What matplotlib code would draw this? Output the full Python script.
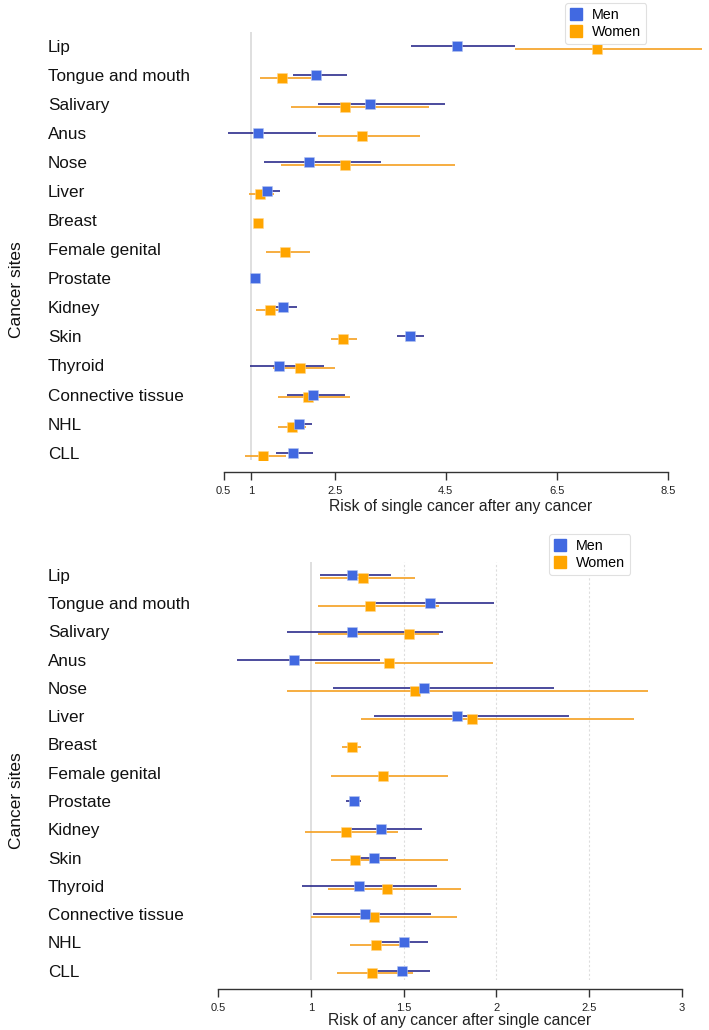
import matplotlib
matplotlib.use("Agg")
import matplotlib.pyplot as plt
from matplotlib.lines import Line2D
from matplotlib.transforms import blended_transform_factory

plt.rcParams['font.family'] = ['Liberation Sans', 'DejaVu Sans']

sites = ["Lip", "Tongue and mouth", "Salivary", "Anus", "Nose", "Liver", "Breast",
         "Female genital", "Prostate", "Kidney", "Skin", "Thyroid",
         "Connective tissue", "NHL", "CLL"]
N = None

# Top panel: risk of single cancer after any cancer
top_men_est = [4.71, 2.17, 3.14, 1.11, 2.03, 1.28, N, N, 1.06, 1.56, 3.86, 1.50, 2.11, 1.85, 1.75]
top_men_lo  = [3.87, 1.74, 2.20, 0.58, 1.23, 1.08, N, N, 1.03, 1.35, 3.63, 0.97, 1.64, 1.65, 1.45]
top_men_hi  = [5.75, 2.72, 4.48, 2.16, 3.34, 1.51, N, N, 1.09, 1.82, 4.10, 2.31, 2.69, 2.09, 2.10]
top_wom_est = [7.23, 1.55, 2.68, 2.99, 2.68, 1.15, 1.12, 1.61, N, 1.33, 2.65, 1.87, 2.02, 1.73, 1.20]
top_wom_lo  = [5.75, 1.16, 1.71, 2.20, 1.53, 0.96, 1.09, 1.26, N, 1.08, 2.43, 1.39, 1.48, 1.48, 0.88]
top_wom_hi  = [9.12, 2.07, 4.19, 4.04, 4.67, 1.40, 1.15, 2.05, N, 1.51, 2.90, 2.51, 2.78, 1.99, 1.62]
top_ticks = [0.5, 1, 2.5, 4.5, 6.5, 8.5]

# Bottom panel: risk of any cancer after single cancer
bot_men_est = [1.22, 1.64, 1.22, 0.91, 1.61, 1.79, N, N, 1.23, 1.38, 1.34, 1.26, 1.29, 1.50, 1.49]
bot_men_lo  = [1.05, 1.34, 0.87, 0.60, 1.12, 1.34, N, N, 1.19, 1.19, 1.23, 0.95, 1.01, 1.38, 1.34]
bot_men_hi  = [1.43, 1.99, 1.71, 1.37, 2.31, 2.39, N, N, 1.27, 1.60, 1.46, 1.68, 1.65, 1.63, 1.64]
bot_wom_est = [1.28, 1.32, 1.53, 1.42, 1.56, 1.87, 1.22, 1.39, N, 1.19, 1.24, 1.41, 1.34, 1.35, 1.33]
bot_wom_lo  = [1.05, 1.04, 1.04, 1.02, 0.87, 1.27, 1.17, 1.11, N, 0.97, 1.11, 1.09, 1.00, 1.21, 1.14]
bot_wom_hi  = [1.56, 1.69, 1.69, 1.98, 2.82, 2.74, 1.27, 1.74, N, 1.47, 1.74, 1.81, 1.79, 1.48, 1.55]
bot_ticks = [0.5, 1, 1.5, 2, 2.5, 3]

MEN_MK = '#4169E1'
MEN_LN = '#2c2c8c'
WOM_MK = '#FFA500'
WOM_LN = '#F5A020'

W, H = 709, 1030
fig = plt.figure(figsize=(W / 100, H / 100), dpi=100)


def panel(px_left, px_right, px_top, px_bot, xlim, ylim, men, wom, ticks, xlabel,
          dotted, legend_px, spine_out, ylab_px, labelpad):
    ax = fig.add_axes([px_left / W, 1 - px_bot / H, (px_right - px_left) / W,
                       (px_bot - px_top) / H])
    ax.set_xlim(*xlim)
    ax.set_ylim(*ylim)
    ax.axvline(1, color='#d9d9d9', lw=1.2, zorder=0)
    for d in dotted:
        ax.axvline(d, color='#dddddd', lw=0.8, ls=(0, (2, 2)), zorder=0)
    off = 0.05
    me, ml, mh = men
    we, wl, wh = wom
    for i in range(len(sites)):
        if me[i] is not None:
            ax.plot([ml[i], mh[i]], [i - off, i - off], color=MEN_LN, lw=1.2,
                    solid_capstyle='butt', zorder=2)
        if we[i] is not None:
            ax.plot([wl[i], wh[i]], [i + off, i + off], color=WOM_LN, lw=1.2,
                    solid_capstyle='butt', zorder=2)
    for i in range(len(sites)):
        if me[i] is not None:
            ax.plot(me[i], i - off, 's', ms=7.5, color=MEN_MK, mec='#b8c6f0',
                    mew=0.4, zorder=4)
        if we[i] is not None:
            ax.plot(we[i], i + off, 's', ms=7.5, color=WOM_MK, mec='#ffd890',
                    mew=0.4, zorder=3)
    for s in ['top', 'right', 'left']:
        ax.spines[s].set_visible(False)
    ax.spines['bottom'].set_position(('outward', spine_out))
    ax.spines['bottom'].set_bounds(ticks[0], ticks[-1])
    ax.spines['bottom'].set_color('#333333')
    ax.spines['bottom'].set_linewidth(1.0)
    ax.set_xticks(ticks)
    ax.set_xticklabels([f"{t:g}" for t in ticks])
    ax.tick_params(axis='x', length=6, width=1.0, color='#333333', labelsize=8,
                   pad=4, labelcolor='#222222')
    ax.set_yticks([])
    ax.set_xlabel(xlabel, fontsize=11.3, color='#222222', labelpad=labelpad)
    # category labels
    tr = blended_transform_factory(fig.transFigure, ax.transData)
    for i, s in enumerate(sites):
        ax.text(48 / W, i, s, transform=tr, fontsize=12.3, color='#111111',
                ha='left', va='center')
    fig.text(17 / W, 1 - ylab_px / H, "Cancer sites", rotation=90,
             fontsize=12.5, ha='center', va='center', color='#111111')
    handles = [Line2D([], [], marker='s', ls='none', color=MEN_MK, ms=8.5),
               Line2D([], [], marker='s', ls='none', color=WOM_MK, ms=8.5)]
    lx, ly = legend_px
    leg = fig.legend(handles, ["Men", "Women"], loc='upper left',
                     bbox_to_anchor=(lx / W, 1 - ly / H), fontsize=10.3,
                     frameon=True, handlelength=0.8, handletextpad=0.7,
                     borderpad=0.38, labelspacing=0.15, fancybox=True,
                     borderaxespad=0, edgecolor='#e0e0e0', framealpha=1)
    leg.get_frame().set_linewidth(0.8)
    return ax


panel(215, 706, 32, 460, (0.343, 9.19), (14.2, -0.52),
      (top_men_est, top_men_lo, top_men_hi), (top_wom_est, top_wom_lo, top_wom_hi),
      top_ticks, "Risk of single cancer after any cancer", [], (565, 3), 8.7, 290, 2)

panel(215, 705, 562, 980, (0.483, 3.125), (14.28, -0.51),
      (bot_men_est, bot_men_lo, bot_men_hi), (bot_wom_est, bot_wom_lo, bot_wom_hi),
      bot_ticks, "Risk of any cancer after single cancer", [1.5, 2, 2.5], (549, 534), 6.7,
      801, 0)

fig.savefig("out.png", dpi=100)
